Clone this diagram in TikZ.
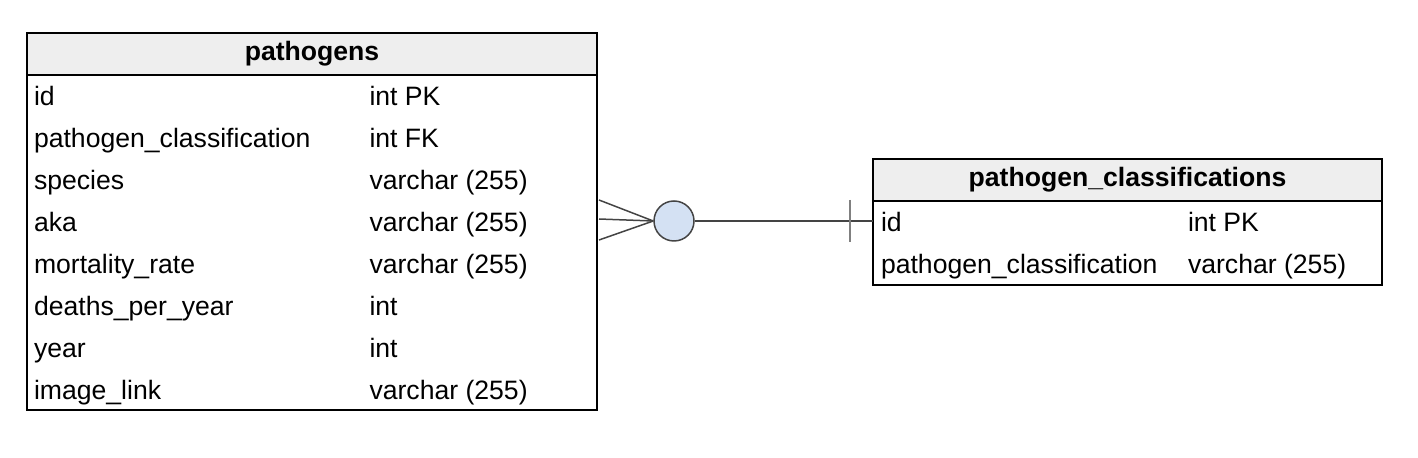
\documentclass[tikz,border=0pt]{standalone}
\usepackage{fontspec}
\setmainfont{Liberation Sans}
\usepackage{tikz}
\usetikzlibrary{positioning}

\definecolor{hdrgray}{HTML}{EEEEEE}
\definecolor{optblue}{HTML}{D4E1F3}
\definecolor{linegray}{HTML}{444444}

\begin{document}
\begin{tikzpicture}[
	x=0.5pt, y=-0.5pt
	,every node/.append style={font=\fontsize{13.3}{16}\selectfont}
	,hdr/.style={draw, fill=hdrgray, line width=0.8pt, inner sep=0pt, outer sep=0pt, minimum height=21pt, font=\fontsize{13.3}{16}\selectfont\bfseries}
	,tbl/.style={draw, line width=0.8pt, inner sep=0pt, outer sep=0pt}
	,fname/.style={inner sep=0pt, outer sep=0pt, text height=9.6pt, text depth=2.9pt, minimum height=21pt, text width=#1, align=left}
	,ftype/.style={inner sep=0pt, outer sep=0pt, text height=9.6pt, text depth=2.9pt, minimum height=21pt}
	,rel/.style={draw=linegray, line width=0.75pt}
]
	\useasboundingbox (0,0) rectangle (1418,458);

	% pathogens
	\node [hdr, minimum width=285pt, anchor=north west] (pg) at (27,33) {pathogens};
	\node [tbl, minimum width=285pt, minimum height=167.5pt, below=0pt of pg] (pgbox) {};
	\node [fname=167.75pt, anchor=base west] (pg-id) at (34,106) {id};
	\node [ftype, right=0pt of pg-id] (pg-idt) {int PK};
	\node [fname=167.75pt, below=0pt of pg-id] (pg-cls) {pathogen\_classification};
	\node [ftype, right=0pt of pg-cls] (pg-clst) {int FK};
	\node [fname=167.75pt, below=0pt of pg-cls] (pg-sp) {species};
	\node [ftype, right=0pt of pg-sp] (pg-spt) {varchar (255)};
	\node [fname=167.75pt, below=0pt of pg-sp] (pg-aka) {aka};
	\node [ftype, right=0pt of pg-aka] (pg-akat) {varchar (255)};
	\node [fname=167.75pt, below=0pt of pg-aka] (pg-mr) {mortality\_rate};
	\node [ftype, right=0pt of pg-mr] (pg-mrt) {varchar (255)};
	\node [fname=167.75pt, below=0pt of pg-mr] (pg-dpy) {deaths\_per\_year};
	\node [ftype, right=0pt of pg-dpy] (pg-dpyt) {int};
	\node [fname=167.75pt, below=0pt of pg-dpy] (pg-yr) {year};
	\node [ftype, right=0pt of pg-yr] (pg-yrt) {int};
	\node [fname=167.75pt, below=0pt of pg-yr] (pg-img) {image\_link};
	\node [ftype, right=0pt of pg-img] (pg-imgt) {varchar (255)};

	% pathogen_classifications
	\node [hdr, minimum width=254.5pt, anchor=north west] (pc) at (873,159) {pathogen\_classifications};
	\node [tbl, minimum width=254.5pt, minimum height=42pt, below=0pt of pc] (pcbox) {};
	\node [fname=153.5pt, anchor=base west] (pc-id) at (881,232) {id};
	\node [ftype, right=0pt of pc-id] (pc-idt) {int PK};
	\node [fname=153.5pt, below=0pt of pc-id] (pc-cls) {pathogen\_classification};
	\node [ftype, right=0pt of pc-cls] (pc-clst) {varchar (255)};

	% relation: many (optional) to one
	\coordinate (cf1) at (599,200);
	\coordinate (cf2) at (599,219);
	\coordinate (cf3) at (599,240);
	\node [circle, draw=linegray, line width=0.75pt, fill=optblue, minimum size=20pt, inner sep=0pt] (opt) at (674,221) {};
	\draw [rel] (cf1) -- (opt.west);
	\draw [rel] (cf2) -- (opt.west);
	\draw [rel] (cf3) -- (opt.west);
	\draw [rel] (opt.east) -- (pcbox.west |- opt.east);
	\coordinate (bar1) at (850,200);
	\coordinate (bar2) at (850,242);
	\draw [draw=gray, line width=1pt] (bar1) -- (bar2);
\end{tikzpicture}
\end{document}
